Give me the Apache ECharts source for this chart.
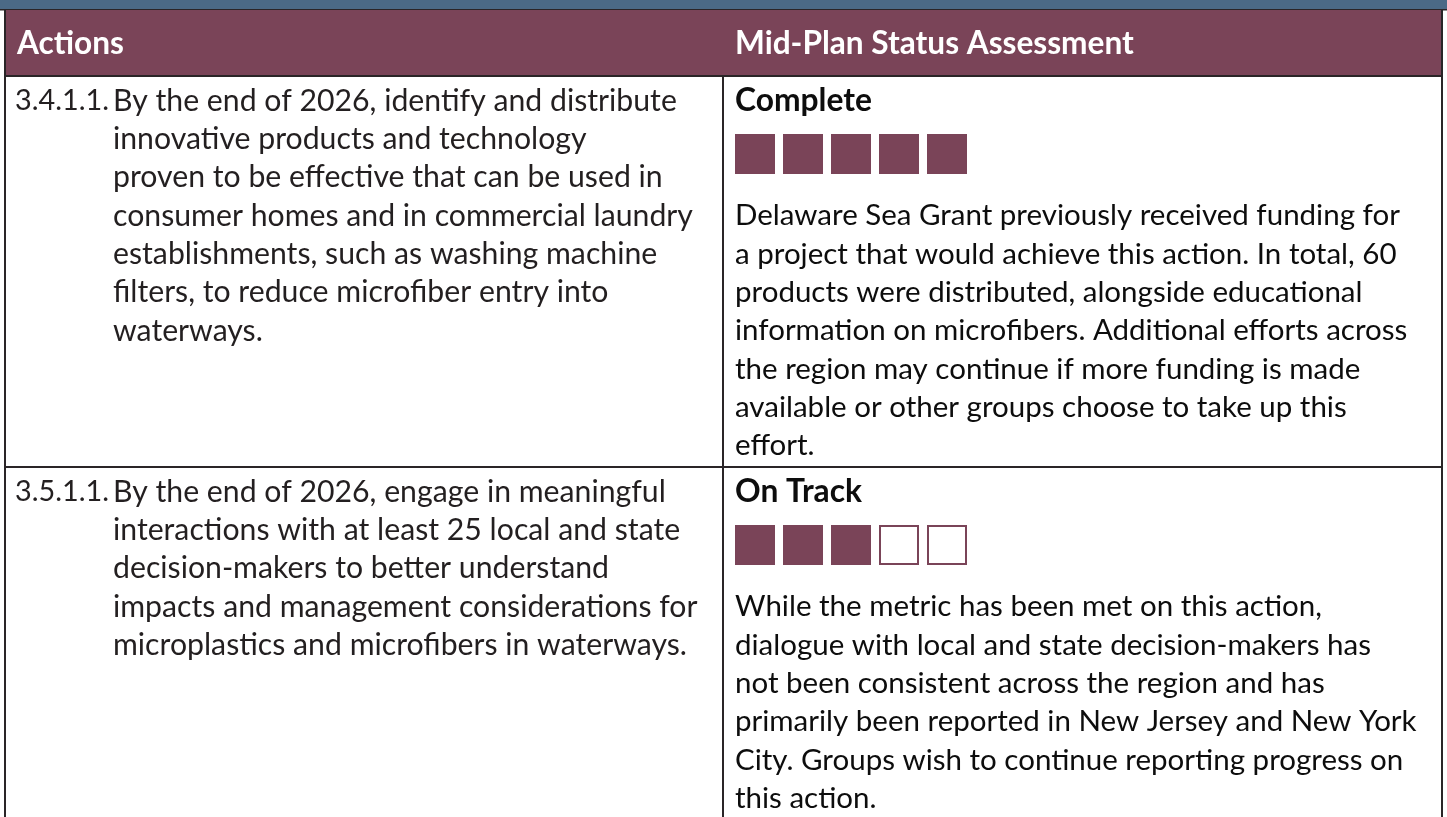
<!DOCTYPE html>
<html>
<head>
<meta charset="utf-8">
<script src="https://cdn.jsdelivr.net/npm/echarts@6/dist/echarts.min.js"></script>
<style>
html,body{margin:0;padding:0;background:#fff;}
#c{width:1447px;height:817px;}
</style>
</head>
<body>
<div id="c"></div>
<script>
// ---------------- DATA ----------------
const headers = ['Actions', 'Mid-Plan Status Assessment'];
const actionIds = ['3.4.1.1.', '3.5.1.1.'];
const actionLines = [
  ['By the end of 2026, identify and distribute',
   'innovative products and technology',
   'proven to be effective that can be used in',
   'consumer homes and in commercial laundry',
   'establishments, such as washing machine',
   'filters, to reduce microfiber entry into',
   'waterways.'],
  ['By the end of 2026, engage in meaningful',
   'interactions with at least 25 local and state',
   'decision-makers to better understand',
   'impacts and management considerations for',
   'microplastics and microfibers in waterways.']
];
const statusLabels = ['Complete', 'On Track'];
const statusScores = [5, 3];
const statusSlots = ['1', '2', '3', '4', '5'];
const noteLines = [
  ['Delaware Sea Grant previously received funding for',
   'a project that would achieve this action. In total, 60',
   'products were distributed, alongside educational',
   'information on microfibers. Additional efforts across',
   'the region may continue if more funding is made',
   'available or other groups choose to take up this',
   'effort.'],
  ['While the metric has been met on this action,',
   'dialogue with local and state decision-makers has',
   'not been consistent across the region and has',
   'primarily been reported in New Jersey and New York',
   'City. Groups wish to continue reporting progress on',
   'this action.']
];

// ---------------- STYLE / LAYOUT ----------------
const W = 1447, H = 817;
const FAMILY = 'Lato, "Open Sans", sans-serif';
const MAROON = '#7a4458';
const BLUE = '#4b6a86';
const BORDER = '#2a2527';
const LEFT_TEXT = '#231f20';
const RIGHT_TEXT = '#0d0d0d';
const PITCH = 38.3;
const rowTops = [77, 468];
const rowEnds = [466, 817];
const xBorderL = 4, xDivider = 722, xBorderR = 1441;
const xNum = 15, xHead = 17, xAction = 113, xNote = 735;

const cv = document.createElement('canvas').getContext('2d');
function fit(text, weight, target) {
  cv.font = weight + ' 100px ' + FAMILY;
  return 100 * target / cv.measureText(text).width;
}
const sizeL = fit('consumer homes and in commercial laundry', 'normal', 580);
const sizeR = fit('Delaware Sea Grant previously received funding for', 'normal', 665);
const sizeN = Math.min(sizeL, fit('3.4.1.1.', 'normal', 94));
const sizeB = fit('Complete', 'bold', 137);
const sizeH = fit('Actions', 'bold', 107);

function txt(text, x, y, size, weight, fill, align) {
  return {
    type: 'text', x: x, y: y, silent: true,
    style: {
      text: text, fill: fill,
      font: weight + ' ' + size.toFixed(2) + 'px ' + FAMILY,
      verticalAlign: 'middle', textVerticalAlign: 'middle',
      align: align || 'left', textAlign: align || 'left'
    }
  };
}
function rect(x, y, w, h, fill) {
  return { type: 'rect', silent: true, shape: { x: x, y: y, width: w, height: h }, style: { fill: fill } };
}

const graphics = [];
// top bar and header
graphics.push(rect(0, 0, W, 9, BLUE));
graphics.push(rect(0, 9, W, 1.5, BORDER));
graphics.push(rect(xBorderL, 10, xBorderR - xBorderL, 65, MAROON));
graphics.push(rect(xBorderL, 75, xBorderR - xBorderL + 2, 2, BORDER));
// vertical borders
graphics.push(rect(xBorderL, 9, 2, H - 9, BORDER));
graphics.push(rect(xBorderR, 9, 2, H - 9, BORDER));
graphics.push(rect(xDivider, 77, 2, H - 77, BORDER));
// row divider
graphics.push(rect(xBorderL, rowEnds[0], xBorderR - xBorderL + 2, 2, BORDER));
// header texts
graphics.push(txt(headers[0], xHead, 44, sizeH, 'bold', '#ffffff'));
graphics.push(txt(headers[1], xNote, 44, sizeH, 'bold', '#ffffff'));

const grids = [], xAxes = [], yAxes = [], series = [];
rowTops.forEach(function (top, r) {
  const first = top + 24;
  graphics.push(txt(actionIds[r], xNum, first, sizeN, 'normal', LEFT_TEXT));
  actionLines[r].forEach(function (line, k) {
    graphics.push(txt(line, xAction, first + k * PITCH, sizeL, 'normal', LEFT_TEXT));
  });
  graphics.push(txt(statusLabels[r], xNote, first, sizeB, 'bold', RIGHT_TEXT));
  noteLines[r].forEach(function (line, k) {
    graphics.push(txt(line, xNote, first + (k + 3) * PITCH, sizeR, 'normal', RIGHT_TEXT));
  });
  // status squares grid
  grids.push({ left: 731, top: top + 57, width: 240, height: 40, containLabel: false });
  xAxes.push({ type: 'category', gridIndex: r, data: statusSlots, show: false, boundaryGap: true });
  yAxes.push({ type: 'value', gridIndex: r, min: 0, max: 1, show: false });
  series.push({
    type: 'scatter', xAxisIndex: r, yAxisIndex: r, symbol: 'rect', silent: true,
    data: statusSlots.map(function (s, i) {
      const filled = i < statusScores[r];
      return {
        value: [s, 0.5],
        symbolSize: filled ? 40 : 38,
        itemStyle: filled ? { color: MAROON, opacity: 1 }
                          : { color: '#ffffff', borderColor: MAROON, borderWidth: 2, opacity: 1 }
      };
    })
  });
});

const chart = echarts.init(document.getElementById('c'), null, { renderer: 'canvas', width: W, height: H });
chart.setOption({
  animation: false,
  backgroundColor: '#ffffff',
  grid: grids, xAxis: xAxes, yAxis: yAxes, series: series,
  graphic: { elements: graphics }
});
</script>
</body>
</html>
